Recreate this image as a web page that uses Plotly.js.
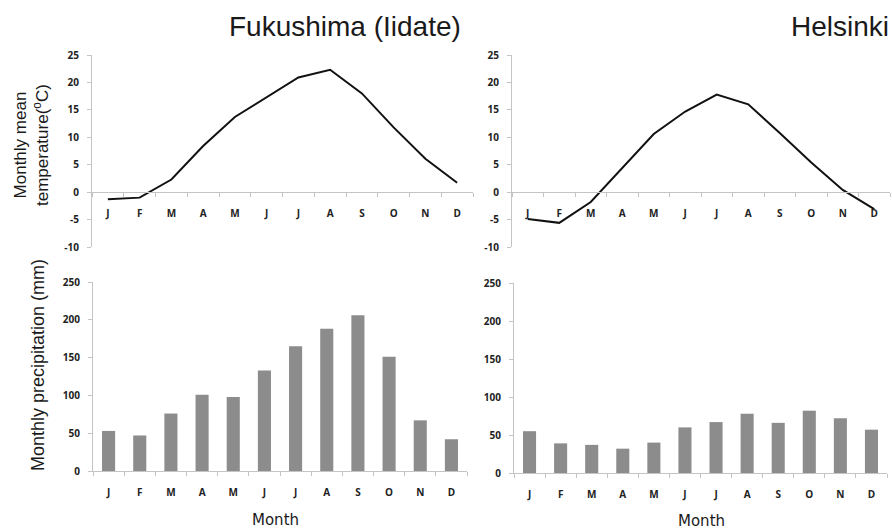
<!DOCTYPE html>
<html>
<head>
<meta charset="utf-8">
<script src="https://cdn.plot.ly/plotly-3.0.1.min.js"></script>
<style>html,body{margin:0;padding:0;background:#fff}#chart{width:892px;height:532px}</style>
</head>
<body>
<div id="chart"></div>
<script>
// ---- data ----
const months = ['J','F','M','A','M','J','J','A','S','O','N','D'];
const fukushimaTemp = [-1.3, -1.0, 2.3, 8.4, 13.7, 17.3, 20.9, 22.3, 18.0, 11.8, 6.1, 1.7];
const helsinkiTemp  = [-4.9, -5.6, -1.8, 4.5, 10.6, 14.7, 17.8, 16.0, 10.8, 5.4, 0.4, -3.1];
const fukushimaPrecip = [53, 47, 76, 101, 98, 133, 165, 188, 206, 151, 67, 42];
const helsinkiPrecip  = [55, 39, 37, 32, 40, 60, 67, 78, 66, 82, 72, 57];
const tempTicks = [-10, -5, 0, 5, 10, 15, 20, 25];
const tempTickLabels = ['-10', '-5', '0', '5', '10', '15', '20', '25'];
const precipTicks = [0, 50, 100, 150, 200, 250];
const precipTickLabels = ['0', '50', '100', '150', '200', '250'];

const W = 892, H = 532;
const px = x => x / W;
const py = y => 1 - y / H;
const idx = months.map((m, i) => i);

const tickFont = {family: 'Open Sans, sans-serif', size: 10, color: '#222', weight: 700};
const lineCol = '#c4c4c4';

function xAxis(domain, extra) {
  return Object.assign({
    domain: domain, range: [-0.5, 11.5], fixedrange: true,
    tickmode: 'array', tickvals: idx, ticktext: months,
    ticks: '', showline: true, linecolor: lineCol, linewidth: 1,
    showgrid: false, zeroline: false, tickfont: tickFont,
    ticklabelstandoff: 12,
    minor: {tick0: -0.5, dtick: 1, ticks: 'outside', ticklen: 4, tickcolor: lineCol, showgrid: false}
  }, extra);
}
function yAxis(domain, range, ticks, labels, extra) {
  return Object.assign({
    domain: domain, range: range, fixedrange: true,
    tickmode: 'array', tickvals: ticks, ticktext: labels,
    ticks: 'outside', ticklen: 4, tickcolor: lineCol,
    showline: true, linecolor: lineCol, linewidth: 1,
    showgrid: false, zeroline: false, tickfont: tickFont,
    ticklabelstandoff: 6
  }, extra);
}

const topDom = [py(247), py(55)];
const zeroPos = py(192);

const traces = [
  {x: idx, y: fukushimaTemp, type: 'scatter', mode: 'lines', xaxis: 'x', yaxis: 'y',
   line: {color: '#111', width: 2}, hoverinfo: 'skip'},
  {x: idx, y: helsinkiTemp, type: 'scatter', mode: 'lines', xaxis: 'x2', yaxis: 'y2',
   line: {color: '#111', width: 2}, hoverinfo: 'skip'},
  {x: idx, y: fukushimaPrecip, type: 'bar', xaxis: 'x3', yaxis: 'y3', width: 0.42,
   marker: {color: '#8c8c8c', line: {width: 0}}, hoverinfo: 'skip'},
  {x: idx, y: helsinkiPrecip, type: 'bar', xaxis: 'x4', yaxis: 'y4', width: 0.42,
   marker: {color: '#8c8c8c', line: {width: 0}}, hoverinfo: 'skip'}
];

const layout = {
  width: W, height: H, margin: {l: 0, r: 0, t: 0, b: 0},
  paper_bgcolor: '#fff', plot_bgcolor: 'rgba(0,0,0,0)', showlegend: false,
  xaxis:  xAxis([px(92), px(473)], {anchor: 'free', position: zeroPos}),
  yaxis:  yAxis(topDom, [-10, 25], tempTicks, tempTickLabels, {anchor: 'x'}),
  xaxis2: xAxis([px(512), px(890)], {anchor: 'free', position: zeroPos}),
  yaxis2: yAxis(topDom, [-10, 25], tempTicks, tempTickLabels, {anchor: 'x2'}),
  xaxis3: xAxis([px(93), px(467)], {anchor: 'y3'}),
  yaxis3: yAxis([py(471), py(282)], [0, 250], precipTicks, precipTickLabels, {anchor: 'x3'}),
  xaxis4: xAxis([px(514), px(887)], {anchor: 'y4'}),
  yaxis4: yAxis([py(473), py(283)], [0, 250], precipTicks, precipTickLabels, {anchor: 'x4'}),
  annotations: [
    {text: 'Fukushima (Iidate)', xref: 'paper', yref: 'paper', x: px(345), y: py(27),
     xanchor: 'center', yanchor: 'middle', showarrow: false,
     font: {family: 'Liberation Sans, Arial, sans-serif', size: 28, color: '#1a1a1a'}},
    {text: 'Helsinki', xref: 'paper', yref: 'paper', x: px(891), y: py(27),
     xanchor: 'right', yanchor: 'middle', showarrow: false,
     font: {family: 'Liberation Sans, Arial, sans-serif', size: 28, color: '#1a1a1a'}},
    {text: 'Monthly mean<br>temperature(<sup>o</sup>C)', xref: 'paper', yref: 'paper',
     x: px(32), y: py(145), xanchor: 'center', yanchor: 'middle', textangle: -90, showarrow: false,
     font: {family: 'Liberation Sans, Arial, sans-serif', size: 17, color: '#1a1a1a'}},
    {text: 'Monthly precipitation (mm)', xref: 'paper', yref: 'paper',
     x: px(38), y: py(365), xanchor: 'center', yanchor: 'middle', textangle: -90, showarrow: false,
     font: {family: 'Liberation Sans, Arial, sans-serif', size: 18, color: '#1a1a1a'}},
    {text: 'Month', xref: 'paper', yref: 'paper', x: px(275), y: py(520),
     xanchor: 'center', yanchor: 'middle', showarrow: false,
     font: {family: 'DejaVu Sans, sans-serif', size: 15, color: '#1a1a1a'}},
    {text: 'Month', xref: 'paper', yref: 'paper', x: px(701), y: py(521),
     xanchor: 'center', yanchor: 'middle', showarrow: false,
     font: {family: 'DejaVu Sans, sans-serif', size: 15, color: '#1a1a1a'}}
  ]
};

Plotly.newPlot('chart', traces, layout, {staticPlot: true, displayModeBar: false});
</script>
</body>
</html>
